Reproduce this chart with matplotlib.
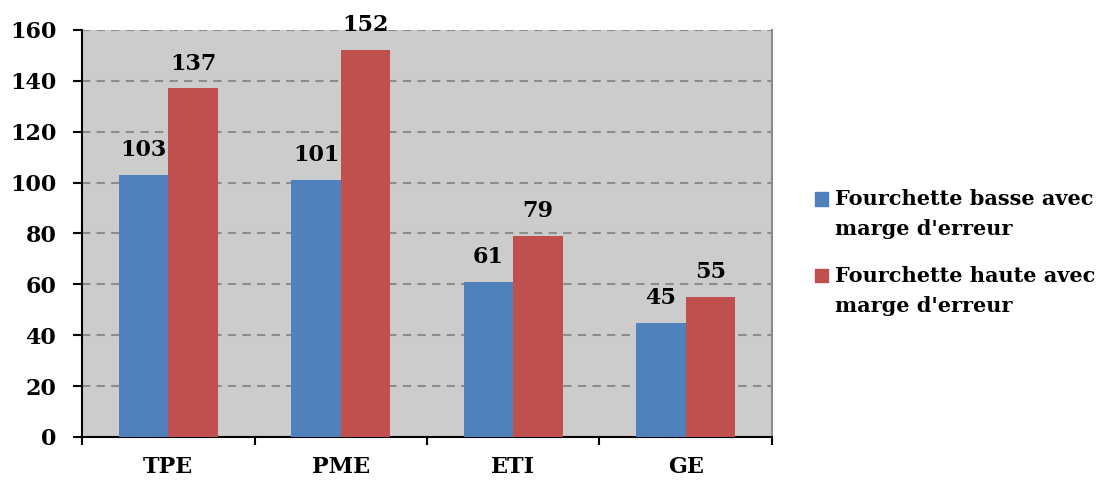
import matplotlib
matplotlib.use("Agg")
import matplotlib.pyplot as plt
import numpy as np
from matplotlib.patches import Patch, Rectangle
from matplotlib.legend_handler import HandlerPatch

categories = ["TPE", "PME", "ETI", "GE"]
low_values = [103, 101, 61, 45]
high_values = [137, 152, 79, 55]
series_names = ["Fourchette basse avec\nmarge d'erreur",
                "Fourchette haute avec\nmarge d'erreur"]
y_ticks = [0, 20, 40, 60, 80, 100, 120, 140, 160]

BLUE = "#4F81BD"
RED = "#C0504D"
FONT = "DejaVu Serif"

plt.rcParams["font.family"] = FONT
plt.rcParams["font.weight"] = "bold"

fig = plt.figure(figsize=(11.13, 4.82), dpi=100)
ax = fig.add_axes([0.0737, 0.0934, 0.6199, 0.8444])
ax.set_facecolor("#CCCCCC")

x = np.arange(len(categories))
w = 0.287
b1 = ax.bar(x - w / 2, low_values, w, color=BLUE, zorder=3)
b2 = ax.bar(x + w / 2, high_values, w, color=RED, zorder=3)

for bars, vals in ((b1, low_values), (b2, high_values)):
    for rect, v in zip(bars, vals):
        ax.annotate(str(v), (rect.get_x() + rect.get_width() / 2, v),
                    xytext=(0, 10), textcoords="offset points",
                    ha="center", va="bottom", fontsize=16, fontweight="bold")

ax.set_xlim(-0.5, len(categories) - 0.5)
ax.set_ylim(0, 160)
ax.set_yticks(y_ticks)
ax.set_yticklabels([str(t) for t in y_ticks], fontsize=16, fontweight="bold")
ax.yaxis.grid(True, linestyle=(0, (4, 3)), color="#8C8C8C", linewidth=1.5, zorder=1)

ax.set_xticks(x)
ax.set_xticklabels(categories, fontsize=16, fontweight="bold")
ax.tick_params(axis="x", length=0, pad=14)
ax.set_xticks(np.arange(-0.5, len(categories)), minor=True)
ax.tick_params(axis="x", which="minor", length=6, width=1.5, color="black")
ax.tick_params(axis="y", length=6.5, width=1.5, color="black", pad=12)

for side in ("left", "bottom"):
    ax.spines[side].set_color("black")
    ax.spines[side].set_linewidth(1.5)
ax.spines["right"].set_color("#8C8C8C")
ax.spines["right"].set_linewidth(1.5)
ax.spines["top"].set_visible(False)


# legend squares sit beside the first line of each two-line label
def top_aligned_square(legend, orig_handle, xdescent, ydescent,
                       width, height, fontsize):
    return Rectangle((-xdescent, -ydescent + 11.5), width, height)


handles = [Patch(color=BLUE), Patch(color=RED)]
leg = fig.legend(handles, series_names, loc="center left",
                 bbox_to_anchor=(0.7323, 0.476), frameon=False,
                 prop={"family": FONT, "weight": "bold", "size": 15},
                 handlelength=0.62, handleheight=0.62, handletextpad=0.34,
                 labelspacing=1.3, borderpad=0, borderaxespad=0,
                 handler_map={Patch: HandlerPatch(patch_func=top_aligned_square)})
for t in leg.get_texts():
    t.set_linespacing(1.6)

fig.savefig("out.png", dpi=100)
